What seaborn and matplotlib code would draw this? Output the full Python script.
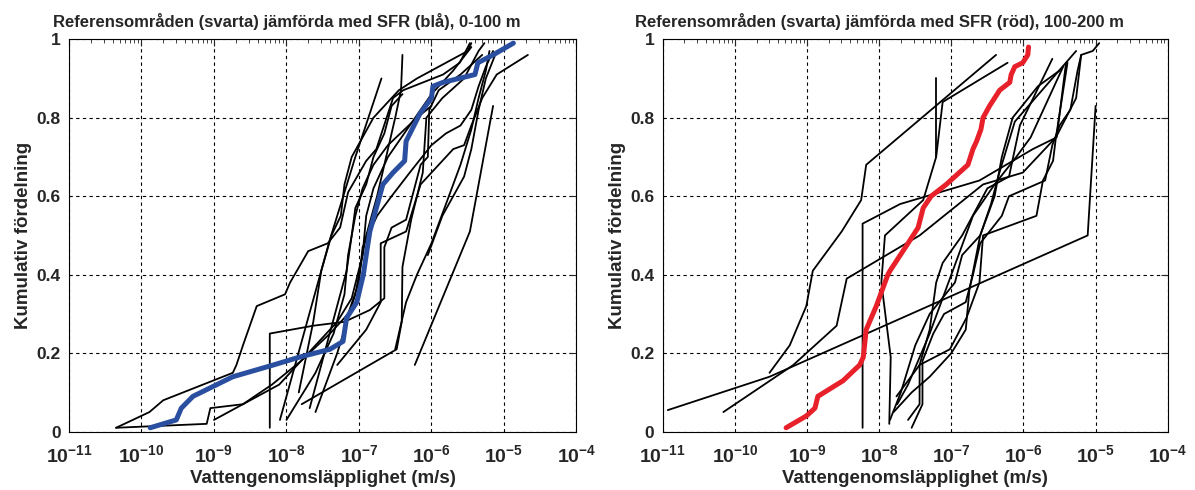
import numpy as np
import pandas as pd
import matplotlib
matplotlib.use("Agg")
import matplotlib.pyplot as plt
import seaborn as sns
from matplotlib.ticker import FixedLocator, LogLocator, NullFormatter

# log10 of hydraulic conductivity (m/s) and cumulative fraction

# --- left panel, 0-100 m ---
sfr_0_100_logk = [-9.88, -9.52, -9.45, -9.29, -8.74, -8.18, -7.82, -7.40, -7.22, -7.17, -7.03, -6.94,
                  -6.90, -6.85, -6.76, -6.67, -6.53, -6.37, -6.35, -6.16, -6.00, -5.98, -5.84, -5.40,
                  -5.36, -5.15, -4.87]
sfr_0_100_cdf = [0.01, 0.03, 0.06, 0.09, 0.14, 0.17, 0.19, 0.21, 0.23, 0.29, 0.33, 0.40,
                 0.45, 0.51, 0.57, 0.63, 0.66, 0.69, 0.74, 0.81, 0.85, 0.88, 0.89, 0.91,
                 0.94, 0.96, 0.99]

ref_0_100 = [
    ([-10.35, -9.89, -9.70, -8.74, -8.69, -8.60, -8.41, -8.02, -7.95, -7.70, -7.43, -7.26, -7.15,
      -6.90, -6.76, -6.53, -6.39, -5.84, -5.61, -5.47],
     [0.01, 0.05, 0.08, 0.15, 0.17, 0.22, 0.32, 0.35, 0.38, 0.46, 0.48, 0.52, 0.61,
      0.69, 0.72, 0.85, 0.87, 0.91, 0.94, 0.99]),
    ([-10.35, -9.10, -9.05, -8.60, -8.10, -7.70, -7.30, -7.10, -6.95, -6.90, -6.80, -6.60, -6.30,
      -6.00, -5.70, -5.45],
     [0.01, 0.02, 0.06, 0.07, 0.12, 0.20, 0.28, 0.34, 0.45, 0.55, 0.62, 0.70, 0.78,
      0.86, 0.92, 0.98]),
    ([-8.23, -8.23, -7.63, -7.20, -6.85, -6.65, -6.65, -6.55, -6.35, -6.25, -6.15, -6.05, -6.03,
      -5.90, -5.60, -5.30],
     [0.01, 0.25, 0.27, 0.28, 0.31, 0.34, 0.47, 0.52, 0.54, 0.61, 0.68, 0.70, 0.82,
      0.87, 0.91, 0.96]),
    ([-8.09, -7.82, -7.40, -7.05, -6.69],
     [0.03, 0.21, 0.49, 0.70, 0.90]),
    ([-7.83, -7.63, -7.52, -7.38, -7.25, -7.20, -7.10, -6.95, -6.80, -6.60, -6.45, -6.20, -5.90,
      -5.50, -5.45],
     [0.10, 0.28, 0.41, 0.50, 0.55, 0.63, 0.70, 0.75, 0.80, 0.84, 0.87, 0.90, 0.93,
      0.97, 0.99]),
    ([-7.79, -6.48, -6.41, -6.40, -6.28, -6.12, -6.07, -5.85, -5.55, -5.35, -5.27],
     [0.07, 0.21, 0.28, 0.42, 0.54, 0.66, 0.80, 0.85, 0.90, 0.97, 0.99]),
    ([-7.68, -7.36, -7.17, -7.10, -7.05, -6.90, -6.80, -6.65, -6.55, -6.40],
     [0.06, 0.28, 0.41, 0.50, 0.57, 0.63, 0.70, 0.76, 0.83, 0.86]),
    ([-6.23, -5.47, -5.15],
     [0.17, 0.51, 0.83]),
    ([-9.00, -8.60, -8.20, -7.80, -7.40, -7.15, -7.00, -6.95, -6.75, -6.55, -6.30, -6.00, -5.80,
      -5.60, -5.45, -5.35, -5.25, -5.15],
     [0.03, 0.07, 0.12, 0.18, 0.25, 0.30, 0.38, 0.47, 0.55, 0.60, 0.66, 0.73, 0.76,
      0.78, 0.82, 0.88, 0.93, 0.97]),
    ([-7.30, -6.90, -6.70, -6.70, -6.35, -6.15, -5.90, -5.70, -5.55, -5.45, -5.30, -5.10, -4.67],
     [0.17, 0.26, 0.33, 0.48, 0.51, 0.63, 0.68, 0.72, 0.73, 0.78, 0.85, 0.91, 0.96]),
    ([-7.60, -7.30, -7.05, -6.90, -6.75, -6.60, -6.50, -6.42, -6.40],
     [0.05, 0.20, 0.35, 0.50, 0.60, 0.72, 0.80, 0.87, 0.96]),
    ([-6.50, -6.35, -6.20, -6.00, -5.80, -5.60, -5.45, -5.35, -5.25, -5.20],
     [0.21, 0.33, 0.40, 0.48, 0.58, 0.68, 0.77, 0.85, 0.92, 0.97]),
    ([-6.05, -5.85, -5.55, -5.45, -5.35, -5.25, -5.10],
     [0.45, 0.55, 0.65, 0.72, 0.82, 0.90, 0.97]),
    ([-8.00, -7.60, -7.35, -7.20, -7.15, -7.05, -6.95, -6.80, -6.60, -6.20, -6.00],
     [0.03, 0.15, 0.25, 0.35, 0.45, 0.55, 0.62, 0.68, 0.73, 0.80, 0.83]),
]

# --- right panel, 100-200 m ---
sfr_100_200_logk = [-9.29, -9.01, -8.89, -8.85, -8.50, -8.27, -8.22, -8.18, -8.11, -8.04, -7.88,
                    -7.85, -7.60, -7.46, -7.39, -7.28, -7.07, -6.89, -6.77, -6.70, -6.65, -6.59,
                    -6.56, -6.47, -6.33, -6.19, -6.17, -6.12, -6.01, -5.94, -5.93]
sfr_100_200_cdf = [0.01, 0.04, 0.06, 0.09, 0.13, 0.17, 0.19, 0.26, 0.29, 0.32, 0.40,
                   0.41, 0.48, 0.52, 0.57, 0.60, 0.63, 0.66, 0.68, 0.72, 0.74, 0.77,
                   0.80, 0.83, 0.87, 0.89, 0.91, 0.93, 0.94, 0.96, 0.98]

ref_100_200 = [
    ([-10.93, -9.52, -5.11, -5.00],
     [0.055, 0.14, 0.50, 0.83]),
    ([-8.23, -8.23, -7.71, -6.61, -5.87, -5.54, -5.41],
     [0.01, 0.53, 0.58, 0.64, 0.72, 0.75, 0.94]),
    ([-10.16, -9.19, -8.59, -8.45, -7.44, -6.56, -6.01, -5.55, -5.39],
     [0.05, 0.17, 0.27, 0.39, 0.50, 0.63, 0.66, 0.75, 0.94]),
    ([-9.52, -9.24, -9.01, -8.92, -8.52, -8.25, -8.18, -6.38],
     [0.15, 0.22, 0.32, 0.41, 0.51, 0.59, 0.68, 0.96]),
    ([-7.86, -7.84, -7.97, -7.92, -7.39, -7.21, -7.12, -6.22],
     [0.02, 0.19, 0.38, 0.50, 0.59, 0.70, 0.84, 0.94]),
    ([-7.75, -7.60, -7.30, -7.10, -6.90, -6.70, -6.40, -6.10, -5.90, -5.70, -5.45],
     [0.07, 0.12, 0.25, 0.35, 0.45, 0.55, 0.63, 0.70, 0.75, 0.83, 0.93]),
    ([-7.85, -7.70, -7.50, -7.30, -6.95, -6.85, -6.60, -6.40, -6.30, -6.15, -5.80, -5.50],
     [0.03, 0.10, 0.22, 0.30, 0.38, 0.45, 0.50, 0.60, 0.70, 0.80, 0.88, 0.92]),
    ([-7.55, -7.40, -7.40, -7.25, -7.10, -6.80, -6.70, -6.60, -6.30, -6.20, -5.70, -5.60, -5.50,
      -5.35, -5.25, -5.20],
     [0.01, 0.07, 0.18, 0.25, 0.30, 0.33, 0.40, 0.48, 0.55, 0.60, 0.64, 0.73, 0.78,
      0.82, 0.92, 0.96]),
    ([-7.80, -7.55, -7.30, -7.00, -6.80, -6.75, -6.60, -6.45, -6.35, -6.12, -5.27],
     [0.05, 0.10, 0.14, 0.20, 0.26, 0.36, 0.50, 0.58, 0.65, 0.79, 0.97]),
    ([-7.76, -7.44, -7.02, -6.79, -6.61, -6.56, -5.82, -5.73, -5.59, -5.55, -5.27, -5.20, -5.04,
      -4.95],
     [0.09, 0.17, 0.21, 0.29, 0.38, 0.50, 0.55, 0.64, 0.69, 0.75, 0.85, 0.96, 0.97, 0.99]),
    ([-7.60, -7.44, -7.44, -7.30, -7.21, -7.12, -6.85, -6.50, -6.20, -6.05, -5.60],
     [0.03, 0.07, 0.17, 0.26, 0.38, 0.43, 0.50, 0.62, 0.65, 0.78, 0.95]),
    ([-7.21, -7.21],
     [0.70, 0.90]),
]

panels = [
    ("Referensområden (svarta) jämförda med SFR (blå), 0-100 m",
     ref_0_100, sfr_0_100_logk, sfr_0_100_cdf, "#2a4fa0"),
    ("Referensområden (svarta) jämförda med SFR (röd), 100-200 m",
     ref_100_200, sfr_100_200_logk, sfr_100_200_cdf, "#e8202a"),
]

sns.set_style("white")
plt.rcParams['font.family'] = ['Liberation Sans', 'DejaVu Sans']
plt.rcParams['font.weight'] = 'bold'
plt.rcParams['axes.labelweight'] = 'bold'
plt.rcParams['axes.titleweight'] = 'bold'
plt.rcParams['mathtext.fontset'] = 'custom'
plt.rcParams['mathtext.rm'] = 'Liberation Sans'
plt.rcParams['mathtext.bf'] = 'Liberation Sans:bold'

fig = plt.figure(figsize=(11.95, 4.9), dpi=100)
positions = [[0.0577, 0.119, 0.4247, 0.801], [0.5546, 0.119, 0.4226, 0.801]]

for pos, (title, refs, logk, cdf, color) in zip(positions, panels):
    ax = fig.add_axes(pos)
    for lk, f in refs:
        d = pd.DataFrame({"K": 10.0 ** np.array(lk), "F": f})
        sns.lineplot(data=d, x="K", y="F", sort=False, estimator=None,
                     color="black", linewidth=1.3, ax=ax)
    d = pd.DataFrame({"K": 10.0 ** np.array(logk), "F": cdf})
    sns.lineplot(data=d, x="K", y="F", sort=False, estimator=None,
                 color=color, linewidth=3.6, ax=ax, zorder=5)

    ax.set_xscale("log")
    ax.set_xlim(1e-11, 1e-4)
    ax.set_ylim(0, 1)
    exps = list(range(-11, -3))
    ax.xaxis.set_major_locator(FixedLocator([10.0 ** e for e in exps]))
    ax.set_xticklabels([r"$\mathbf{10^{%d}}$" % e for e in exps], fontsize=14)
    ax.xaxis.set_minor_locator(LogLocator(base=10, subs=np.arange(2, 10), numticks=20))
    ax.xaxis.set_minor_formatter(NullFormatter())
    ax.set_yticks([0, 0.2, 0.4, 0.6, 0.8, 1])
    ax.set_yticklabels(["0", "0.2", "0.4", "0.6", "0.8", "1"], fontsize=12.5)
    ax.tick_params(which="both", direction="in", top=True, right=True)
    ax.tick_params(axis="x", which="major", length=5, width=0.8, pad=9)
    ax.tick_params(axis="y", which="major", length=5, width=0.8, pad=6)
    ax.tick_params(which="minor", length=3, width=0.6)
    ax.grid(True, which="major", color="black", linestyle=(0, (3, 3)), linewidth=0.8)
    for s in ax.spines.values():
        s.set_color("black")
        s.set_linewidth(0.8)
    ax.set_title(title, fontsize=12, pad=9, x=0.43)
    ax.set_xlabel("Vattengenomsläpplighet (m/s)", fontsize=13.5, labelpad=3)
    ax.set_ylabel("Kumulativ fördelning", fontsize=13.5, labelpad=3)

fig.savefig("out.png", dpi=100)
